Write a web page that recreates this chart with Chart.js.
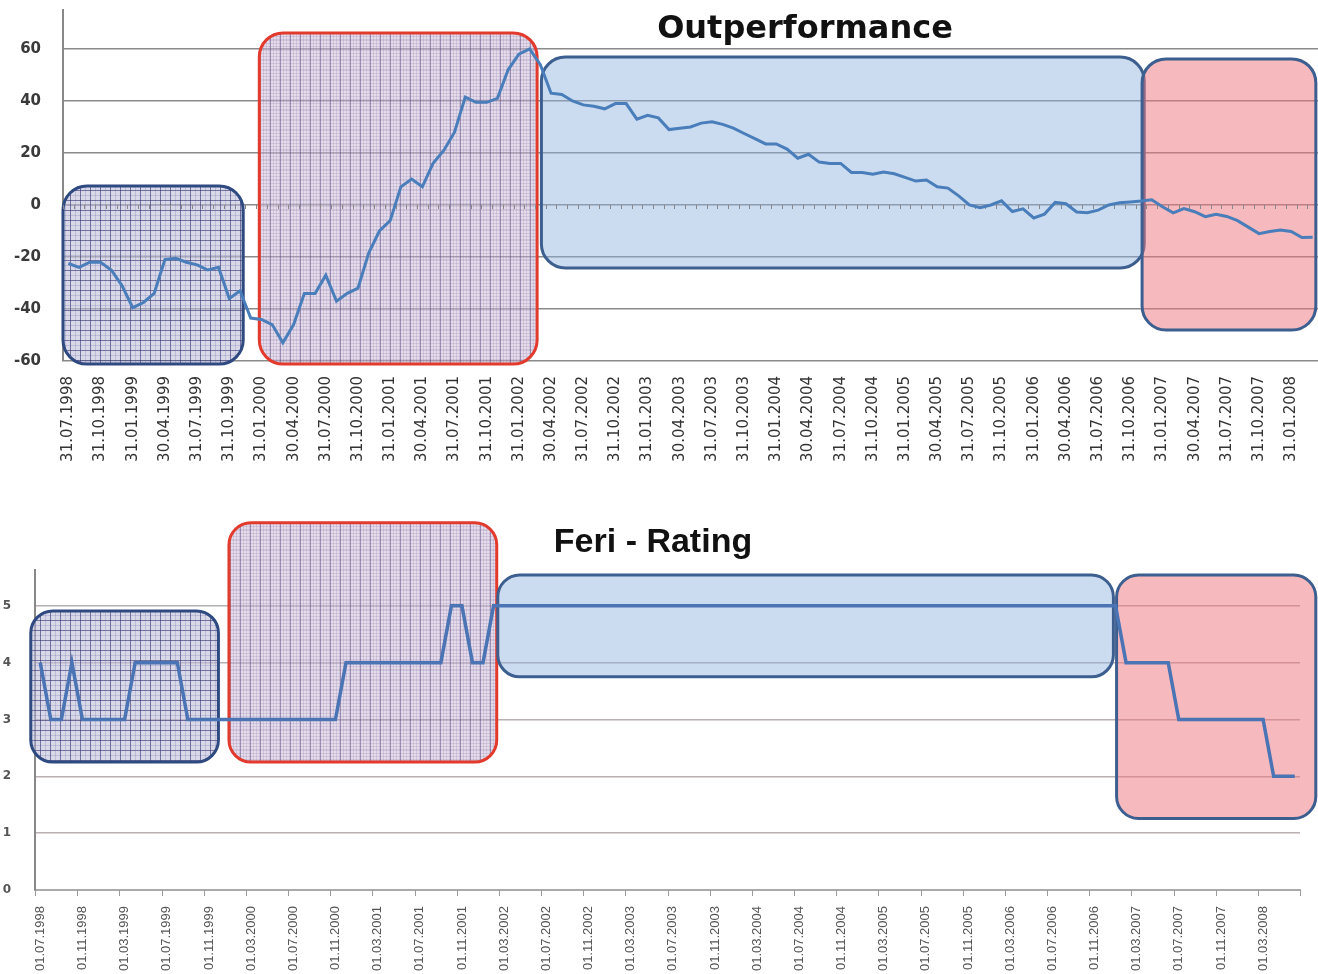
<!DOCTYPE html>
<html>
<head>
<meta charset="utf-8">
<script src="https://cdn.jsdelivr.net/npm/chart.js@4.4.1/dist/chart.umd.min.js"></script>
<style>
  html, body { margin: 0; padding: 0; background: #fff; }
  body { width: 1318px; height: 974px; position: relative; overflow: hidden; }
  canvas { position: absolute; left: 0; }
  #topChart { top: 0; }
  #botChart { top: 480px; }
  .title { position: absolute; transform: translate(-50%, -50%); white-space: nowrap; color: #111; line-height: 1; }
  #t1 { left: 805px; top: 27px; font: bold 32px "DejaVu Sans"; }
  #t2 { left: 653px; top: 540px; font: bold 34px "Liberation Sans"; }
</style>
</head>
<body>
<canvas id="topChart" width="1318" height="470"></canvas>
<canvas id="botChart" width="1318" height="494"></canvas>
<div id="t1" class="title">Outperformance</div>
<div id="t2" class="title">Feri - Rating</div>
<script>
// monthly outperformance, 31.07.1998 .. 31.03.2008
const outperformance = [
  -22.5, -24, -22, -22, -25, -31, -39.5, -37.5, -34, -21, -20.5, -22,
  -23, -25, -24, -36, -33, -43.5, -44, -46, -53, -46, -34, -34,
  -27, -37, -34, -32, -18.5, -10, -6, 7, 10, 7, 16, 21,
  28, 41.5, 39.5, 39.5, 41, 52, 58, 60, 54, 43, 42.5, 40,
  38.5, 38, 37, 39, 39, 33, 34.5, 33.5, 29, 29.5, 30, 31.5,
  32, 31, 29.6, 27.5, 25.5, 23.5, 23.5, 21.5, 18, 19.5, 16.5, 16,
  16, 12.5, 12.5, 11.8, 12.7, 12, 10.6, 9.2, 9.6, 7, 6.5, 3.5,
  0, -1, 0, 1.6, -2.5, -1.5, -5, -3.5, 1, 0.5, -2.7, -3,
  -2, 0, 0.9, 1.2, 1.5, 2, -0.7, -3, -1.4, -2.6, -4.5, -3.6,
  -4.4, -6, -8.5, -11, -10.2, -9.6, -10.2, -12.5, -12.4
];

// monthly Feri rating, 01.07.1998 .. 01.06.2008
const feriRating = [
  4, 3, 3, 4, 3, 3, 3, 3, 3, 4, 4, 4,
  4, 4, 3, 3, 3, 3, 3, 3, 3, 3, 3, 3,
  3, 3, 3, 3, 3, 4, 4, 4, 4, 4, 4, 4,
  4, 4, 4, 5, 5, 4, 4, 5, 5, 5, 5, 5,
  5, 5, 5, 5, 5, 5, 5, 5, 5, 5, 5, 5,
  5, 5, 5, 5, 5, 5, 5, 5, 5, 5, 5, 5,
  5, 5, 5, 5, 5, 5, 5, 5, 5, 5, 5, 5,
  5, 5, 5, 5, 5, 5, 5, 5, 5, 5, 5, 5,
  5, 5, 5, 5, 5, 5, 5, 4, 4, 4, 4, 4,
  3, 3, 3, 3, 3, 3, 3, 3, 3, 2, 2, 2
];

const outTicks = [-60, -40, -20, 0, 20, 40, 60];
const ratingTicks = [0, 1, 2, 3, 4, 5];

const pad = (n) => String(n).padStart(2, "0");
function monthLabels(year, month, count, endOfMonth) {
  const out = [];
  for (let k = 0; k < count; k++) {
    const d = endOfMonth ? new Date(year, month + k, 0) : new Date(year, month - 1 + k, 1);
    out.push(pad(d.getDate()) + "." + pad(d.getMonth() + 1) + "." + d.getFullYear());
  }
  return out;
}
const outMonths = monthLabels(1998, 7, outperformance.length, true);
const ratingMonths = monthLabels(1998, 7, feriRating.length, false);

function gridPattern(base, major, minor, step, minorStep, vertOnlyMajor) {
  const c = document.createElement("canvas");
  c.width = c.height = step;
  const g = c.getContext("2d");
  g.fillStyle = base;
  g.fillRect(0, 0, step, step);
  g.fillStyle = minor;
  for (let p = 0; p < step; p += minorStep) {
    g.fillRect(p, 0, 1, step);
    g.fillRect(0, p, step, 1);
  }
  g.fillStyle = major;
  g.fillRect(0, 0, 1, step);
  if (!vertOnlyMajor) g.fillRect(0, 0, step, 1);
  return c;
}

function roundRect(ctx, x1, y1, x2, y2, r) {
  const x = Math.min(x1, x2), y = Math.min(y1, y2);
  const w = Math.abs(x2 - x1), h = Math.abs(y2 - y1);
  ctx.beginPath();
  ctx.moveTo(x + r, y);
  ctx.arcTo(x + w, y, x + w, y + h, r);
  ctx.arcTo(x + w, y + h, x, y + h, r);
  ctx.arcTo(x, y + h, x, y, r);
  ctx.arcTo(x, y, x + w, y, r);
  ctx.closePath();
}

const navyGrid = gridPattern("rgba(190,190,218,0.6)", "rgba(55,55,115,0.55)", "rgba(90,90,150,0.22)", 10, 5, false);
const redGrid = gridPattern("rgba(205,190,218,0.55)", "rgba(90,75,130,0.45)", "rgba(120,100,150,0.18)", 10, 3, true);

// rounded phase boxes and small axis ticks, drawn behind the line
const phaseBoxes = {
  id: "phaseBoxes",
  beforeDatasetsDraw(chart, args, opts) {
    const { ctx, scales } = chart;
    ctx.save();
    opts.boxes.forEach((b) => {
      const x1 = scales.x.getPixelForValue(b.from);
      const x2 = scales.x.getPixelForValue(b.to);
      const y1 = scales.y.getPixelForValue(b.top);
      const y2 = scales.y.getPixelForValue(b.bottom);
      roundRect(ctx, x1, y1, x2, y2, opts.radius);
      ctx.fillStyle = b.pattern ? ctx.createPattern(b.pattern, "repeat") : b.fill;
      ctx.fill();
      ctx.lineWidth = 3;
      ctx.strokeStyle = b.stroke;
      ctx.stroke();
    });
    if (opts.tickEvery) {
      const y0 = scales.y.getPixelForValue(opts.tickAt);
      ctx.strokeStyle = opts.tickColor;
      ctx.lineWidth = 1;
      for (let i = 0; i <= chart.data.labels.length; i += opts.tickEvery) {
        const x = Math.round(scales.x.getPixelForValue(i - 0.5)) + 0.5;
        ctx.beginPath();
        ctx.moveTo(x, y0);
        ctx.lineTo(x, y0 + opts.tickLen);
        ctx.stroke();
      }
    }
    ctx.restore();
  },
};

new Chart(document.getElementById("topChart"), {
  type: "line",
  data: {
    labels: outMonths,
    datasets: [{
      data: outperformance,
      borderColor: "#4a7ebb",
      borderWidth: 3,
      pointRadius: 0,
      tension: 0,
      fill: false,
    }],
  },
  plugins: [phaseBoxes],
  options: {
    responsive: false,
    devicePixelRatio: 1,
    animation: false,
    layout: { padding: { top: 10, left: 0, right: 0, bottom: 0 } },
    plugins: {
      legend: { display: false },
      tooltip: { enabled: false },
      phaseBoxes: {
        radius: 24,
        tickEvery: 1,
        tickAt: 0,
        tickLen: 4,
        tickColor: "#888",
        boxes: [
          { from: -0.5, to: 16.3, top: 7.3, bottom: -61.2, pattern: navyGrid, stroke: "#2e4a80" },
          { from: 17.8, to: 43.7, top: 66.2, bottom: -61.2, pattern: redGrid, stroke: "#e23a2c" },
          { from: 44.1, to: 100.3, top: 56.9, bottom: -24.2, fill: "rgba(140,178,222,0.45)", stroke: "#3d5f90" },
          { from: 100.1, to: 116.3, top: 56.2, bottom: -48.1, fill: "rgba(236,115,125,0.5)", stroke: "#3d5f90" },
        ],
      },
    },
    scales: {
      x: {
        offset: true,
        grid: { drawOnChartArea: false, drawTicks: true, tickLength: 15, tickColor: "rgba(0,0,0,0)" },
        border: { display: false },
        ticks: {
          autoSkip: false,
          minRotation: 90,
          maxRotation: 90,
          padding: 0,
          color: "#333",
          font: { family: "DejaVu Sans", size: 15 },
          callback(value, index) {
            return index % 3 === 0 ? this.getLabelForValue(value) : null;
          },
        },
        afterFit(s) { s.height = 109; },
      },
      y: {
        min: -60,
        max: 75,
        afterBuildTicks(s) { s.ticks = outTicks.map((v) => ({ value: v })); },
        afterFit(s) { s.width = 63; },
        grid: { color: "#8a8a8a", lineWidth: 1.5, drawTicks: true, tickLength: 22, tickColor: "rgba(0,0,0,0)" },
        border: { color: "#888", width: 2 },
        ticks: {
          padding: 0,
          color: "#3a3a3a",
          font: { family: "DejaVu Sans", size: 15, weight: "bold" },
        },
      },
    },
  },
});

new Chart(document.getElementById("botChart"), {
  type: "line",
  data: {
    labels: ratingMonths,
    datasets: [{
      data: feriRating,
      borderColor: "#4a74b4",
      borderWidth: 3.5,
      pointRadius: 0,
      tension: 0,
      fill: false,
    }],
  },
  plugins: [phaseBoxes],
  options: {
    responsive: false,
    devicePixelRatio: 1,
    animation: false,
    layout: { padding: { top: 90, left: 0, right: 18, bottom: 0 } },
    plugins: {
      legend: { display: false },
      tooltip: { enabled: false },
      phaseBoxes: {
        radius: 22,
        tickEvery: 4,
        tickAt: 0,
        tickLen: 6,
        tickColor: "#999",
        boxes: [
          { from: -0.9, to: 16.9, top: 4.91, bottom: 2.25, pattern: navyGrid, stroke: "#2e4a80" },
          { from: 17.9, to: 43.3, top: 6.46, bottom: 2.25, pattern: redGrid, stroke: "#e23a2c" },
          { from: 43.4, to: 101.8, top: 5.54, bottom: 3.75, fill: "rgba(140,178,222,0.45)", stroke: "#3d5f90" },
          { from: 102.1, to: 121.0, top: 5.54, bottom: 1.26, fill: "rgba(236,115,125,0.5)", stroke: "#3d5f90" },
        ],
      },
    },
    scales: {
      x: {
        offset: true,
        grid: { drawOnChartArea: false, drawTicks: true, tickLength: 6, tickColor: "rgba(0,0,0,0)" },
        border: { color: "#aaa", width: 2 },
        ticks: {
          autoSkip: false,
          minRotation: 90,
          maxRotation: 90,
          padding: 10,
          color: "#555",
          font: { family: "Liberation Sans", size: 13 },
          callback(value, index) {
            return index % 4 === 0 ? this.getLabelForValue(value) : null;
          },
        },
        afterFit(s) { s.height = 84; },
      },
      y: {
        min: 0,
        max: 5.63,
        afterBuildTicks(s) { s.ticks = ratingTicks.map((v) => ({ value: v })); },
        afterFit(s) { s.width = 35; },
        grid: { color: "#b8b0b0", lineWidth: 1.5, drawTicks: false },
        border: { color: "#888", width: 2 },
        ticks: {
          padding: 24,
          color: "#555",
          font: { family: "DejaVu Sans", size: 12, weight: "bold" },
        },
      },
    },
  },
});
</script>
</body>
</html>
